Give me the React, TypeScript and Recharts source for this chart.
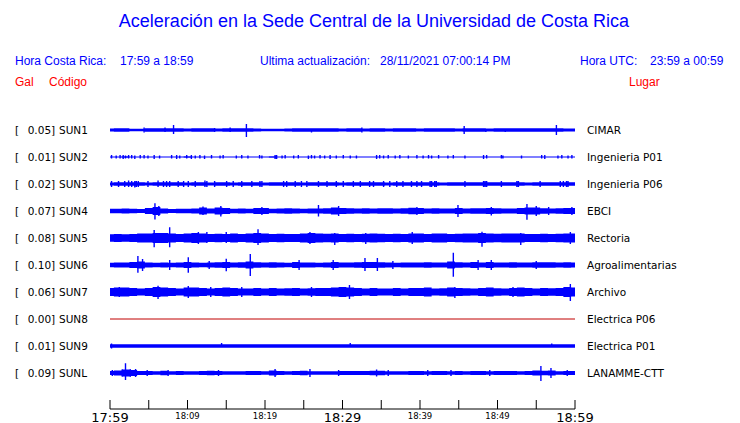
import React from 'react';
import { ComposedChart, Area, Line, XAxis, YAxis } from 'recharts';

// one sample per minute, 17:59 -> 18:59
const minutes = [
  0, 1, 2, 3, 4, 5, 6, 7, 8, 9, 10, 11, 12, 13, 14, 15, 16, 17, 18, 19, 20,
  21, 22, 23, 24, 25, 26, 27, 28, 29, 30, 31, 32, 33, 34, 35, 36, 37, 38, 39, 40,
  41, 42, 43, 44, 45, 46, 47, 48, 49, 50, 51, 52, 53, 54, 55, 56, 57, 58, 59, 60,
];

const tickMinutes = [0, 5, 10, 15, 20, 25, 30, 35, 40, 45, 50, 55, 60];
const labelMinutes = [0, 10, 20, 30, 40, 50, 60];
const timeLabels = ['17:59', '18:09', '18:19', '18:29', '18:39', '18:49', '18:59'];

const codes = ['SUN1', 'SUN2', 'SUN3', 'SUN4', 'SUN5', 'SUN6', 'SUN7', 'SUN8', 'SUN9', 'SUNL'];
const peaks = ['0.05', '0.01', '0.02', '0.07', '0.08', '0.10', '0.06', '0.00', '0.01', '0.09'];
const places = [
  'CIMAR', 'Ingenieria P01', 'Ingenieria P06', 'EBCI', 'Rectoria',
  'Agroalimentarias', 'Archivo', 'Electrica P06', 'Electrica P01', 'LANAMME-CTT',
];

// half width of the trace envelope, one value per minute
const sun1 = [
  1.6, 1.7, 1.7, 1.2, 1.3, 1.7, 1.7, 1.8, 1.7, 1.7, 1.4, 1.7, 1.7, 1.7, 1.6, 1.7, 1.7, 1.8, 1.7, 1.6,
  1.3, 1.3, 1.3, 1.6, 1.7, 1.7, 1.7, 1.8, 1.7, 1.7, 1.4, 1.7, 1.7, 1.6, 1.7, 1.7, 1.4, 1.7, 1.7, 1.7,
  1.5, 1.7, 1.7, 1.7, 1.7, 1.6, 1.7, 1.7, 1.7, 1.5, 1.7, 1.7, 1.7, 1.7, 1.7, 1.7, 1.7, 1.7, 1.7, 1.6, 1.6,
];
const sun2 = [
  0.6, 0.6, 0.7, 0.6, 0.6, 0.6, 0.6, 0.6, 0.6, 0.6, 0.7, 0.6, 0.6, 0.6, 0.6, 0.6, 0.6, 0.6, 0.6, 0.6,
  0.6, 0.7, 0.6, 0.6, 0.6, 0.6, 0.6, 0.6, 0.6, 0.6, 0.6, 0.6, 0.6, 0.6, 0.6, 0.6, 0.6, 0.6, 0.6, 0.6,
  0.6, 0.6, 0.6, 0.6, 0.6, 0.6, 0.6, 0.6, 0.6, 0.6, 0.6, 0.6, 0.6, 0.6, 0.6, 0.6, 0.6, 0.6, 0.6, 0.6, 0.6,
];
const sun3 = [
  1.6, 1.7, 1.7, 1.8, 1.7, 1.6, 1.7, 1.7, 1.7, 1.7, 1.6, 1.7, 1.7, 1.6, 1.7, 1.7, 1.6, 1.7, 1.7, 1.7,
  1.6, 1.7, 1.7, 1.7, 1.7, 1.6, 1.7, 1.7, 1.7, 1.7, 1.6, 1.7, 1.7, 1.7, 1.7, 1.7, 1.6, 1.7, 1.7, 1.7,
  1.7, 1.8, 1.7, 1.6, 1.7, 1.7, 1.7, 1.7, 1.8, 1.7, 1.7, 1.7, 1.7, 1.7, 1.6, 1.7, 1.7, 1.7, 1.8, 1.8, 1.7,
];
const sun4 = [
  2.2, 2.2, 2.5, 2.2, 2.0, 3.0, 4.0, 2.5, 2.0, 2.2, 2.3, 2.5, 3.5, 2.5, 3.5, 3.0, 2.2, 2.5, 2.3, 3.0,
  3.0, 2.3, 2.5, 2.7, 2.5, 2.2, 2.5, 2.5, 2.7, 3.5, 3.0, 2.7, 2.5, 2.7, 2.5, 2.7, 2.7, 2.5, 2.7, 3.2,
  3.0, 2.5, 2.7, 2.5, 2.5, 3.0, 2.5, 2.7, 2.7, 3.0, 2.7, 2.5, 2.5, 3.0, 3.5, 3.5, 2.7, 2.5, 2.7, 3.0, 3.0,
];
const sun5 = [
  3.7, 4.0, 3.8, 4.0, 4.5, 4.5, 5.0, 5.0, 4.5, 4.0, 4.5, 5.0, 4.5, 4.0, 4.3, 4.0, 4.5, 4.0, 4.5, 5.0,
  4.5, 4.0, 4.3, 4.0, 4.0, 4.5, 5.0, 4.5, 4.3, 4.5, 4.0, 4.3, 4.0, 4.3, 4.5, 4.3, 4.0, 4.3, 4.0, 4.5,
  4.5, 4.0, 4.5, 4.5, 4.0, 4.3, 4.5, 4.5, 5.0, 4.5, 4.3, 4.5, 4.5, 4.5, 4.0, 4.0, 4.3, 4.0, 4.3, 4.5, 4.5,
];
const sun6 = [
  2.2, 2.5, 2.5, 3.0, 3.5, 2.5, 2.2, 2.5, 2.2, 2.5, 3.0, 2.5, 2.2, 2.5, 2.7, 3.0, 2.5, 2.7, 3.5, 2.7,
  2.5, 2.7, 2.5, 2.2, 3.0, 2.5, 2.5, 2.2, 2.5, 3.0, 2.5, 2.5, 2.7, 3.0, 3.0, 2.7, 2.5, 2.2, 2.5, 2.5,
  2.5, 2.7, 2.5, 2.5, 3.5, 2.7, 2.5, 3.0, 2.5, 3.0, 2.5, 2.5, 2.7, 2.5, 2.5, 2.7, 2.7, 2.7, 2.5, 2.7, 2.5,
];
const sun7 = [
  4.0, 4.5, 4.5, 4.0, 3.5, 4.0, 5.0, 4.5, 4.0, 3.5, 4.5, 4.5, 4.0, 3.5, 4.0, 4.5, 4.0, 3.5, 3.5, 4.0,
  3.5, 4.0, 3.5, 3.7, 4.0, 3.5, 3.7, 4.0, 4.0, 4.5, 5.0, 4.5, 4.0, 3.5, 4.0, 3.5, 3.5, 4.0, 3.5, 4.0,
  4.0, 4.5, 3.5, 3.7, 4.5, 4.0, 3.7, 3.5, 4.0, 4.5, 3.7, 3.5, 4.0, 4.5, 4.0, 3.5, 4.0, 3.7, 4.0, 5.0, 4.5,
];
const sun9 = [
  1.8, 1.7, 1.7, 1.7, 1.7, 1.7, 1.7, 1.7, 1.7, 1.7, 1.7, 1.7, 1.7, 1.7, 1.7, 1.7, 1.7, 1.7, 1.7, 1.7,
  1.7, 1.7, 1.7, 1.7, 1.7, 1.7, 1.7, 1.7, 1.7, 1.7, 1.7, 1.7, 1.7, 1.7, 1.7, 1.7, 1.7, 1.7, 1.7, 1.7,
  1.7, 1.7, 1.7, 1.7, 1.7, 1.7, 1.7, 1.7, 1.7, 1.7, 1.7, 1.7, 1.7, 1.7, 1.7, 1.7, 1.7, 1.7, 1.7, 1.7, 1.7,
];
const sunl = [
  2.0, 2.5, 3.5, 3.0, 2.0, 2.0, 1.8, 2.2, 1.8, 2.0, 1.8, 1.8, 2.0, 2.2, 2.0, 1.8, 1.8, 1.8, 2.0, 2.0,
  1.8, 2.5, 2.0, 1.8, 2.0, 2.2, 1.8, 1.8, 1.8, 1.8, 2.0, 2.0, 2.0, 2.0, 2.2, 2.2, 1.8, 1.8, 1.8, 2.0,
  2.0, 1.8, 2.0, 2.0, 1.8, 2.0, 1.8, 2.0, 2.0, 1.8, 2.0, 2.0, 2.0, 1.8, 2.0, 2.5, 2.2, 2.5, 1.8, 2.0, 2.0,
];
// SUN8 is flat
const sun8Times = [0, 60];
const sun8 = [0, 0];

// bursts: [minute, up, down]
const sun1Spikes = [
  [4.4, 2.5, 2.5], [7.1, 2.5, 2], [8.2, 5, 4], [13.5, 2, 2], [15.5, 2.5, 2], [17.6, 6, 7],
  [26, 1, 2.5], [32.5, 2.5, 2.5], [45.7, 4, 4], [48.5, 1, 2], [51, 1, 2], [57.6, 5, 5],
];
const sun2Spikes = [
  [0.2, 2, 1.5], [0.8, 1.5, 1.5], [1.3, 2, 1.5], [1.7, 2, 2], [2.0, 1.5, 1.5], [2.4, 2, 1.5],
  [2.8, 2, 1.5], [3.2, 1.5, 2], [3.9, 2, 1.5], [4.4, 2, 1.5], [4.9, 1.5, 1.5], [5.7, 2, 2],
  [6.4, 1.5, 1.5], [7.95, 2, 1.5], [8.6, 2, 2], [9.0, 1.5, 1.5], [9.9, 2, 1.5], [10.5, 2, 2],
  [11.0, 1.5, 1.5], [11.6, 2, 1.5], [12.2, 1.5, 2], [13.1, 2, 1.5], [14.2, 1.5, 1.5], [14.6, 2, 1.5],
  [16.3, 1.5, 1.5], [17.0, 2, 1.5], [17.8, 1.5, 1.5], [19.3, 2, 1.5], [19.6, 1.5, 1.5], [21.3, 2, 2],
  [21.5, 2, 2], [22.2, 1.5, 1.5], [22.6, 2, 1.5], [23.7, 1.5, 1.5], [24.3, 2, 1.5], [25.6, 1.5, 2],
  [26.0, 2, 1.5], [26.4, 1.5, 1.5], [27.1, 2, 1.5], [27.7, 1.5, 1.5], [28.4, 2, 2], [29.2, 1.5, 1.5],
  [30.1, 2, 1.5], [31.0, 1.5, 1.5], [31.8, 1.5, 1.5], [34.4, 2, 2], [34.8, 2, 1.5], [35.3, 1.5, 1.5],
  [35.9, 2, 1.5], [36.8, 1.5, 1.5], [37.4, 2, 1.5], [38.5, 1.5, 1.5], [39.6, 2, 1.5], [40.4, 1.5, 1.5],
  [41.1, 2, 1.5], [41.5, 1.5, 1.5], [42.4, 2, 1.5], [43.6, 1.5, 1.5], [44.3, 2, 1.5], [45.8, 1.5, 1.5],
  [48.2, 2, 2], [48.6, 2, 1.5], [50.5, 2, 1.5], [50.7, 1.5, 1.5], [53.1, 1.5, 1.5], [55.7, 2, 1.5],
  [56.1, 2, 2], [57.8, 1.5, 1.5], [58.3, 2, 1.5], [59.1, 1.5, 1.5], [59.6, 2, 1.5],
];
const sun3Spikes = [
  [0.2, 3, 3], [1.1, 3, 3], [1.9, 3, 3], [2.4, 3.5, 3], [2.8, 3, 3], [3.2, 3, 3.5], [3.4, 3, 3],
  [3.65, 3, 3], [4.9, 3, 3], [6.2, 3.5, 3], [6.9, 3, 3], [7.3, 3, 3], [7.7, 3, 3], [8.8, 3, 3],
  [9.5, 3, 3], [10.1, 3, 3], [11.0, 3, 3], [12.25, 3.5, 3], [12.5, 3, 3], [13.5, 3, 3],
  [15.05, 3, 3], [15.9, 3, 3], [17.0, 3, 3], [18.3, 3, 3], [19.35, 3, 3], [19.6, 3, 3],
  [22.4, 3, 3], [22.8, 3, 3], [23.9, 3, 3], [24.7, 3, 3], [25.4, 3, 3], [26.9, 3, 3],
  [28.0, 3, 3], [29.2, 3, 3], [30.1, 3, 3], [31.4, 3, 3], [32.3, 3, 3], [33.5, 3, 3],
  [34.0, 3, 3], [35.3, 3, 3], [36.1, 3, 3], [37.0, 3, 3], [37.8, 3, 3], [38.9, 3, 3],
  [39.6, 3, 3], [40.2, 3, 3], [41.3, 3, 3], [41.5, 3, 3], [41.9, 3, 3], [42.1, 3, 3],
  [45.8, 3, 3], [48.2, 3, 3], [48.4, 3, 3], [48.6, 3, 3], [50.5, 3, 3], [52.5, 3, 3],
  [52.7, 3, 3], [55.5, 3, 3], [58.1, 3, 3], [58.5, 3, 3], [58.9, 3, 3], [59.1, 3, 3],
];
const sun4Spikes = [
  [5.8, 7.7, 8.5], [6.3, 5, 5], [12.0, 4.5, 4], [14.3, 5, 5.5], [19.6, 4, 4], [26.9, 6, 5.5],
  [29.5, 5, 5], [39.6, 4, 4], [44.9, 6, 6], [49.2, 4, 4.5], [53.8, 7, 8.7], [55.0, 5, 5],
  [56.6, 4, 4], [59.6, 4, 4],
];
const sun5Spikes = [
  [5.7, 8, 9.3], [7.7, 10.7, 9.3], [11.4, 6, 6], [12.5, 6, 5], [15, 6, 5], [19.1, 8.7, 7],
  [25.8, 6, 6], [29, 5, 7], [33, 5, 6], [39, 6, 6], [48.0, 6.3, 8.7], [53, 5, 7], [59.4, 6, 6],
];
const sun6Spikes = [
  [3.6, 9, 7.7], [4.2, 6, 6], [7.7, 5, 5], [10.1, 7.7, 7.7], [12.8, 4, 4], [15.0, 6.3, 6.3],
  [18.1, 11, 11], [24.4, 5, 5], [28.8, 5, 5], [32.9, 7, 6], [34.5, 7, 6], [36.5, 4, 4],
  [44.3, 12.3, 11.7], [47.5, 5, 5], [49.2, 5, 5], [55, 4, 4],
];
const sun7Spikes = [
  [1.2, 5, 5], [6.2, 6.3, 7], [10.1, 6, 6], [13, 5, 5], [17, 5, 5], [26, 5, 5],
  [30.9, 7, 7], [44.5, 5, 6], [52, 5, 5], [59.4, 8, 9],
];
const sun9Spikes = [[0.2, 2.5, 2.5], [14.4, 3, 1], [31, 3, 1], [57, 2.5, 1]];
const sunlSpikes = [
  [0.3, 3, 3], [1.6, 3.5, 3.5], [2.0, 9.7, 7], [2.6, 4, 4], [3.3, 4, 4], [4.8, 3, 3],
  [7.5, 3, 3], [14.0, 3, 3], [21.3, 4, 4], [25.8, 4, 4], [29.5, 3, 3], [34.4, 3.5, 3.5],
  [35.9, 3, 3], [41, 3, 3], [44, 3, 3], [49, 3, 3], [55.6, 7, 8], [56.9, 5, 5], [59, 3, 3],
];

const traces = [sun1, sun2, sun3, sun4, sun5, sun6, sun7, null, sun9, sunl];
const spikes = [
  sun1Spikes, sun2Spikes, sun3Spikes, sun4Spikes, sun5Spikes,
  sun6Spikes, sun7Spikes, [], sun9Spikes, sunlSpikes,
];

// each lane is 27 units tall, 1 unit = 1px
const LANE = 27;
const TOP = 293;
const laneCenter = (i: number) => TOP - 14 - LANE * i;
const laneCenters = codes.map((_, i) => laneCenter(i));

const table = minutes.map((t, k) => {
  const row: any = { t };
  traces.forEach((tr, i) => {
    if (tr) row[codes[i]] = [laneCenter(i) - tr[k], laneCenter(i) + tr[k]];
  });
  return row;
});

const spikeRows = spikes.flatMap((list, i) =>
  list.flatMap(([t, up, down]) => [
    { t, y: laneCenter(i) - down },
    { t, y: laneCenter(i) + up },
    { t, y: null },
  ])
);

const sun8Rows = sun8Times.map((t, k) => ({ t, y: laneCenter(7) + sun8[k] }));

const BLUE = '#0000ff';
const RED = '#ff0000';
const dejavu = "'DejaVu Sans', sans-serif";
const arial = "'Liberation Sans', Arial, sans-serif";

const TimeTick = (props: any) => {
  const { x, y, payload } = props;
  const idx = labelMinutes.indexOf(payload.value);
  const major = payload.value % 30 === 0;
  return (
    <g>
      <line x1={x} x2={x} y1={y - 9} y2={y} stroke="#000" strokeWidth={1} />
      {idx >= 0 && (
        <text
          x={x}
          y={major ? y + 12.5 : y + 9.7}
          textAnchor="middle"
          fontFamily={dejavu}
          fontSize={major ? 13 : 8.5}
          fill="#000"
        >
          {timeLabels[idx]}
        </text>
      )}
    </g>
  );
};

const CodeTick = (props: any) => {
  const { y, payload } = props;
  const i = laneCenters.indexOf(payload.value);
  if (i < 0) return null;
  return (
    <text y={y + 4} fontFamily={dejavu} fontSize={10.5} fill="#000">
      <tspan x={15}>[</tspan>
      <tspan x={27.7}>{peaks[i]}]</tspan>
      <tspan x={59}>{codes[i]}</tspan>
    </text>
  );
};

const PlaceTick = (props: any) => {
  const { x, y, payload } = props;
  const i = laneCenters.indexOf(payload.value);
  if (i < 0) return null;
  return (
    <text x={x} y={y + 4} fontFamily={dejavu} fontSize={10.5} fill="#000">
      {places[i]}
    </text>
  );
};

const Header = () => (
  <svg width={740} height={100} style={{ position: 'absolute', left: 0, top: 0 }}>
    <text x={374} y={27} textAnchor="middle" fontFamily={arial} fontSize={18} fill={BLUE}>
      Aceleración en la Sede Central de la Universidad de Costa Rica
    </text>
    <g fontFamily={arial} fontSize={12} fill={BLUE}>
      <text x={15} y={65}>Hora Costa Rica:</text>
      <text x={120} y={65}>17:59 a 18:59</text>
      <text x={260} y={65}>Ultima actualización:</text>
      <text x={380} y={65}>28/11/2021 07:00:14 PM</text>
      <text x={580} y={65}>Hora UTC:</text>
      <text x={650} y={65}>23:59 a 00:59</text>
    </g>
    <g fontFamily={arial} fontSize={12} fill={RED}>
      <text x={15} y={86}>Gal</text>
      <text x={49} y={86}>Código</text>
      <text x={629} y={86}>Lugar</text>
    </g>
  </svg>
);

export default function App() {
  return (
    <div style={{ position: 'absolute', left: 0, top: 0, width: 740, height: 423, background: '#fff' }}>
      <ComposedChart
        width={740}
        height={423}
        data={table}
        margin={{ top: 116, right: 0, bottom: 0, left: 0 }}
      >
        <XAxis
          dataKey="t"
          type="number"
          domain={[0, 60]}
          ticks={tickMinutes}
          interval={0}
          height={14}
          tickSize={0}
          tickMargin={0}
          tickLine={false}
          axisLine={{ stroke: '#000' }}
          tick={<TimeTick />}
        />
        <YAxis
          yAxisId="lane"
          type="number"
          domain={[0, TOP]}
          ticks={laneCenters}
          interval={0}
          width={110}
          axisLine={false}
          tickLine={false}
          tick={<CodeTick />}
        />
        <YAxis
          yAxisId="place"
          orientation="right"
          type="number"
          domain={[0, TOP]}
          ticks={laneCenters}
          interval={0}
          width={165}
          axisLine={false}
          tickLine={false}
          tickSize={0}
          tickMargin={12}
          tick={<PlaceTick />}
        />
        {traces.map((tr, i) =>
          tr ? (
            <Area
              key={codes[i]}
              yAxisId="lane"
              dataKey={codes[i]}
              type="step"
              stroke="none"
              fill={BLUE}
              fillOpacity={1}
              isAnimationActive={false}
            />
          ) : null
        )}
        <Line
          yAxisId="lane"
          data={spikeRows}
          dataKey="y"
          type="linear"
          stroke={BLUE}
          strokeWidth={1.4}
          dot={false}
          activeDot={false}
          connectNulls={false}
          isAnimationActive={false}
        />
        <Line
          yAxisId="place"
          data={sun8Rows}
          dataKey="y"
          type="linear"
          stroke="#c00000"
          strokeWidth={1}
          dot={false}
          activeDot={false}
          isAnimationActive={false}
        />
      </ComposedChart>
      <Header />
    </div>
  );
}
